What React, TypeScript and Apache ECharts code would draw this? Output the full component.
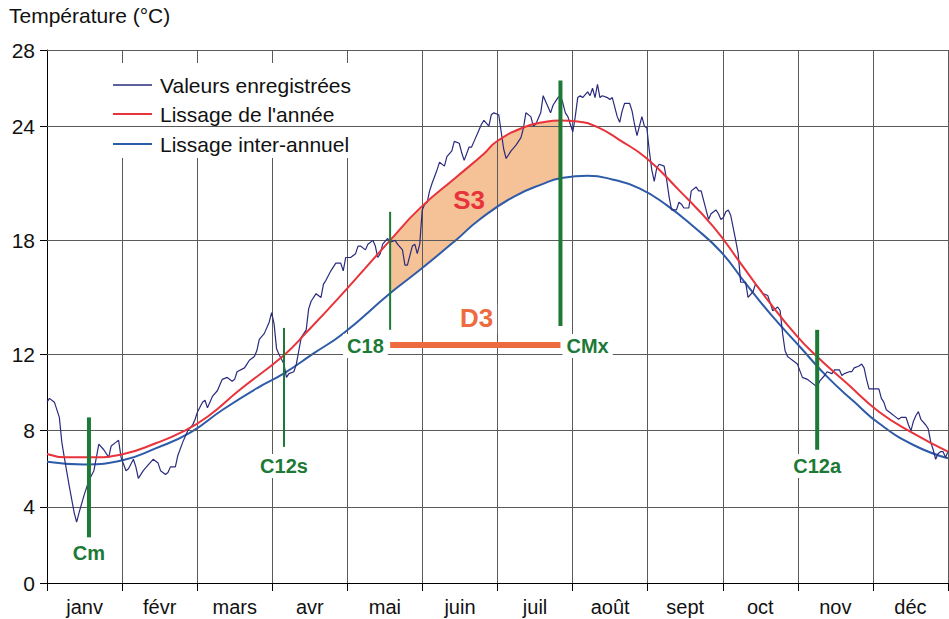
import React, { useEffect, useRef } from "react";
import * as echarts from "echarts";

const months = ["janv", "févr", "mars", "avr", "mai", "juin", "juil", "août", "sept", "oct", "nov", "déc"];
const yTicks = [0, 4, 8, 12, 18, 24, 28];

const recordedDays = [
  0, 1, 3, 5, 6, 7, 9, 11, 12, 13, 15, 16, 17, 19, 20, 21, 23, 25, 26, 28, 29, 30, 32, 33, 35, 36, 37, 39, 41, 43,
  45, 46, 48, 49, 50, 52, 53, 55, 57, 59, 60, 61, 63, 64, 65, 67, 69, 71, 73, 75, 76, 77, 80, 81, 82, 84, 85, 86, 88, 90,
  91, 92, 93, 94, 96, 97, 98, 100, 101, 102, 103, 105, 106, 107, 109, 111, 112, 113, 115, 117, 119, 120, 121, 123, 125, 126, 127, 129, 130, 132,
  133, 134, 135, 136, 138, 139, 141, 142, 144, 145, 146, 148, 149, 150, 151, 152, 153, 154, 155, 156, 158, 159, 161, 162, 164, 165, 167, 168, 169, 171,
  172, 173, 175, 176, 177, 179, 180, 181, 183, 184, 185, 186, 188, 190, 192, 193, 194, 196, 197, 198, 200, 201, 202, 203, 204, 205, 206, 207, 208, 209,
  210, 211, 212, 213, 214, 215, 216, 217, 219, 220, 221, 222, 223, 224, 225, 227, 228, 229, 231, 232, 233, 234, 236, 237, 238, 239, 241, 242, 243, 244,
  245, 246, 247, 248, 250, 251, 252, 253, 255, 256, 257, 258, 260, 261, 263, 264, 265, 267, 268, 269, 271, 272, 273, 274, 275, 276, 277, 279, 280, 281,
  283, 284, 286, 287, 289, 290, 292, 293, 294, 296, 297, 298, 299, 300, 301, 302, 304, 306, 308, 310, 312, 313, 315, 316, 318, 319, 321, 322, 323, 325,
  326, 327, 329, 330, 331, 332, 333, 335, 337, 338, 339, 340, 342, 344, 345, 346, 348, 349, 350, 351, 352, 353, 354, 356, 357, 358, 359, 360, 361, 362,
  363, 364, 365,
];
const recordedTemps = [
  9.5, 9.7, 9.5, 8.7, 7.4, 6.6, 5.1, 3.7, 3.2, 3.7, 4.6, 5.0, 5.4, 5.9, 6.6, 7.3, 7.0, 6.6, 7.2, 7.4, 7.5, 6.6, 5.9, 6.0, 6.5, 6.1, 5.5, 5.9, 6.2, 6.5,
  6.3, 5.9, 5.7, 5.8, 6.1, 6.1, 6.7, 7.4, 8.0, 8.3, 8.6, 9.0, 9.5, 9.6, 9.2, 9.8, 10.1, 10.7, 10.8, 10.6, 10.7, 11.1, 11.3, 11.5, 11.7, 11.9, 12.2, 12.8, 13.1, 13.7,
  14.2, 13.6, 12.3, 12.0, 11.5, 10.8, 11.0, 11.1, 11.5, 12.2, 12.9, 13.3, 14.4, 14.8, 15.2, 15.0, 15.7, 15.9, 16.4, 16.8, 16.8, 16.4, 17.1, 17.1, 17.3, 17.7, 17.7, 17.5, 17.8, 18.0,
  17.7, 17.1, 17.3, 17.8, 18.1, 17.9, 18.0, 17.8, 17.5, 16.7, 16.7, 17.7, 17.8, 17.3, 17.8, 19.6, 19.9, 20.0, 20.6, 21.0, 21.7, 22.1, 21.9, 22.4, 22.7, 23.2, 23.1, 22.6, 22.2, 22.9,
  22.9, 23.2, 23.8, 24.1, 24.3, 24.0, 24.6, 24.7, 24.6, 23.7, 22.8, 22.3, 22.7, 23.0, 23.4, 23.9, 24.7, 24.5, 24.0, 24.1, 24.7, 25.6, 25.3, 25.0, 24.7, 25.1, 25.3, 25.5, 25.6, 25.2,
  24.7, 24.5, 24.1, 23.7, 24.5, 25.5, 25.6, 25.5, 25.8, 25.6, 26.0, 25.5, 26.2, 25.5, 25.6, 25.5, 25.4, 25.5, 24.5, 24.2, 24.8, 25.2, 25.2, 24.8, 24.1, 23.5, 24.5, 24.0, 23.9, 22.7,
  21.7, 21.1, 21.8, 22.0, 21.9, 21.2, 20.3, 19.6, 19.6, 20.0, 19.9, 19.7, 19.7, 20.6, 20.8, 20.6, 20.6, 19.6, 19.1, 19.4, 19.6, 19.4, 19.1, 19.2, 19.5, 19.6, 19.3, 18.0, 17.3, 15.8,
  15.8, 15.0, 15.3, 15.7, 15.4, 15.2, 15.1, 14.7, 14.3, 14.5, 14.3, 13.1, 12.2, 11.9, 11.8, 11.7, 11.5, 10.8, 10.7, 10.5, 10.3, 10.6, 10.9, 11.1, 11.0, 11.2, 11.2, 10.9, 11.0, 11.1,
  11.1, 11.3, 11.4, 11.5, 11.3, 10.7, 10.2, 10.2, 10.2, 9.7, 9.5, 9.1, 8.9, 8.7, 8.6, 8.7, 8.7, 8.3, 8.0, 8.5, 8.8, 9.0, 8.6, 8.3, 8.1, 7.4, 7.0, 6.5, 6.8, 6.9,
  6.9, 6.6, 6.9,
];

const yearSmoothDays = [0, 8, 17, 31, 44, 55, 65, 78, 96, 105, 119, 139, 151, 166, 177, 182, 193, 202, 208, 215, 223, 232, 243, 256, 270, 281, 292, 304, 312, 324, 337, 351, 365];
const yearSmooth = [6.78, 6.6, 6.6, 6.78, 7.34, 7.95, 8.73, 10.14, 11.97, 13.15, 15.1, 18.0, 19.68, 21.34, 22.55, 23.18, 23.93, 24.23, 24.3, 24.25, 23.95, 23.27, 22.3, 20.64, 18.71, 16.79, 14.86, 12.94, 11.89, 10.49, 9.0, 7.86, 6.9];
const interSmoothDays = [0, 15, 31, 44, 58, 71, 85, 96, 108, 120, 139, 151, 166, 175, 189, 202, 208, 219, 229, 240, 251, 262, 273, 283, 294, 305, 316, 327, 337, 351, 365];
const interSmooth = [6.37, 6.23, 6.46, 7.07, 7.9, 9.09, 10.23, 11.01, 12.06, 13.11, 15.22, 16.44, 18.05, 19.07, 20.29, 21.02, 21.26, 21.39, 21.2, 20.73, 19.85, 18.71, 17.4, 15.74, 13.99, 12.41, 10.84, 9.52, 8.39, 7.25, 6.55];

const markerNames = ["Cm", "C12s", "C18", "CMx", "C12a"];
const markerDays = [17, 96, 139, 208, 312];
const markerLow = [2.4, 7.15, 13.3, 13.5, 7.0];
const markerHigh = [8.7, 13.4, 19.5, 26.4, 13.3];
const markerLabelDays = [17, 96, 129, 219, 312];
const markerLabelTemps = [1.6, 6.15, 12.45, 12.45, 6.15];

const s3Start = 139;
const s3End = 208;
const d3Temp = 12.5;
const s3Label = [171, 20.1];
const d3Label = [174, 13.9];

const FONT = "'Liberation Sans', Arial, Helvetica, sans-serif";
const GREEN = "#1c7a36";
const RED = "#e8333a";
const BLUE = "#2e5ba8";
const NAVY = "#2a2b7e";
const ORANGE = "#ee6b40";
const FILL = "#f5c196";
const GRID = "#5a5a5a";
const markerWidths = [4, 2, 2, 4, 4];

export default function App() {
  const ref = useRef<HTMLDivElement>(null);
  useEffect(() => {
    if (!ref.current) return;
    const chart = echarts.init(ref.current, undefined, { renderer: "svg" });
    const pair = (xs: number[], ys: number[]) => xs.map((x, i) => [x, ys[i]]);

    const markerSeries: any[] = markerNames.map((n, i) => ({
      type: "line",
      name: n,
      xAxisIndex: 1,
      yAxisIndex: 0,
      z: 6,
      silent: true,
      showSymbol: false,
      symbol: "none",
      data: [
        [markerDays[i], markerLow[i]],
        [markerDays[i], markerHigh[i]],
      ],
      lineStyle: { color: GREEN, width: markerWidths[i] },
    }));

    const option: any = {
      animation: false,
      textStyle: { fontFamily: FONT },
      grid: { left: 47, top: 50, right: 1, bottom: 36, containLabel: false },
      xAxis: [
        {
          type: "category",
          data: months,
          boundaryGap: true,
          position: "bottom",
          axisLine: { show: true, lineStyle: { color: "#000", width: 1 } },
          axisTick: { show: true, alignWithLabel: false, length: 8, lineStyle: { color: "#000" } },
          axisLabel: { fontSize: 20, color: "#111", margin: 14, fontFamily: FONT },
          splitLine: { show: true, lineStyle: { color: GRID, width: 1 } },
        },
        { type: "value", min: 0, max: 365, show: false },
      ],
      yAxis: {
        type: "value",
        min: 0,
        max: 28,
        interval: 2,
        axisLine: { show: true, lineStyle: { color: "#000", width: 1 } },
        axisTick: { show: true, customValues: yTicks, length: 7, lineStyle: { color: "#000" } },
        axisLabel: { customValues: yTicks, fontSize: 21, color: "#111", margin: 12, fontFamily: FONT },
        splitLine: { show: false },
      },
      graphic: [
        { type: "text", left: 9, top: 5, z: 10, style: { text: "Température (°C)", fontSize: 21, fontFamily: FONT, fill: "#111" } },
        { type: "rect", shape: { x: 90, y: 63, width: 280, height: 95 }, z: 3, style: { fill: "#fff" } },
        { type: "line", shape: { x1: 113, y1: 85, x2: 152, y2: 85 }, z: 4, style: { stroke: NAVY, lineWidth: 1.5 } },
        { type: "line", shape: { x1: 113, y1: 114, x2: 152, y2: 114 }, z: 4, style: { stroke: RED, lineWidth: 2 } },
        { type: "line", shape: { x1: 113, y1: 144, x2: 152, y2: 144 }, z: 4, style: { stroke: BLUE, lineWidth: 2 } },
        { type: "text", x: 160, y: 85, z: 4, style: { text: "Valeurs enregistrées", fontSize: 21, fontFamily: FONT, fill: "#111", verticalAlign: "middle" } },
        { type: "text", x: 160, y: 114, z: 4, style: { text: "Lissage de l'année", fontSize: 21, fontFamily: FONT, fill: "#111", verticalAlign: "middle" } },
        { type: "text", x: 160, y: 144, z: 4, style: { text: "Lissage inter-annuel", fontSize: 21, fontFamily: FONT, fill: "#111", verticalAlign: "middle" } },
      ],
      series: [
        {
          type: "custom",
          name: "S3",
          xAxisIndex: 1,
          yAxisIndex: 0,
          z: -1,
          silent: true,
          data: [[s3Start, d3Temp]],
          renderItem: (_p: any, api: any) => {
            const top: number[][] = [];
            const bottom: number[][] = [];
            yearSmoothDays.forEach((d, i) => {
              if (d >= s3Start && d <= s3End) top.push(api.coord([d, yearSmooth[i]]));
            });
            interSmoothDays.forEach((d, i) => {
              if (d >= s3Start && d <= s3End) bottom.push(api.coord([d, interSmooth[i]]));
            });
            return { type: "polygon", shape: { points: top.concat(bottom.reverse()) }, style: { fill: FILL } };
          },
        },
        {
          type: "line",
          name: "grid",
          xAxisIndex: 1,
          yAxisIndex: 0,
          z: 1,
          silent: true,
          showSymbol: false,
          data: [[0, 0]],
          lineStyle: { width: 0 },
          markLine: {
            silent: true,
            symbol: "none",
            label: { show: false },
            lineStyle: { color: GRID, width: 1, type: "solid" },
            data: yTicks.filter((v) => v > 0).map((v) => ({ yAxis: v })),
          },
        },
        {
          type: "line",
          name: "Lissage inter-annuel",
          xAxisIndex: 1,
          yAxisIndex: 0,
          z: 4,
          silent: true,
          showSymbol: false,
          smooth: 0.5,
          data: pair(interSmoothDays, interSmooth),
          lineStyle: { color: BLUE, width: 2 },
        },
        {
          type: "line",
          name: "Valeurs enregistrées",
          xAxisIndex: 1,
          yAxisIndex: 0,
          z: 5,
          silent: true,
          showSymbol: false,
          data: pair(recordedDays, recordedTemps),
          lineStyle: { color: NAVY, width: 1.2 },
        },
        {
          type: "line",
          name: "Lissage de l'année",
          xAxisIndex: 1,
          yAxisIndex: 0,
          z: 5,
          silent: true,
          showSymbol: false,
          smooth: 0.5,
          data: pair(yearSmoothDays, yearSmooth),
          lineStyle: { color: RED, width: 2 },
        },
        ...markerSeries,
        {
          type: "line",
          name: "D3",
          xAxisIndex: 1,
          yAxisIndex: 0,
          z: 6,
          silent: true,
          showSymbol: false,
          data: [
            [s3Start, d3Temp],
            [s3End, d3Temp],
          ],
          lineStyle: { color: ORANGE, width: 6 },
        },
        {
          type: "scatter",
          name: "labels",
          xAxisIndex: 1,
          yAxisIndex: 0,
          z: 7,
          silent: true,
          symbolSize: 1,
          itemStyle: { color: "transparent", opacity: 1 },
          data: [
            ...markerNames.map((n, i) => ({
              value: [markerLabelDays[i], markerLabelTemps[i]],
              name: n,
              label: { color: GREEN },
            })),
            { value: s3Label, name: "S3", label: { color: RED, fontSize: 26, backgroundColor: "transparent" } },
            { value: d3Label, name: "D3", label: { color: ORANGE, fontSize: 26 } },
          ],
          label: {
            show: true,
            position: "inside",
            formatter: (p: any) => p.name,
            fontSize: 20,
            fontWeight: "bold",
            fontFamily: FONT,
            backgroundColor: "#fff",
            padding: [2, 4],
            opacity: 1,
          },
        },
      ],
    };
    chart.setOption(option);
    return () => chart.dispose();
  }, []);
  return <div ref={ref} style={{ position: "fixed", left: 0, top: 0, width: 949, height: 619, background: "#fff" }} />;
}
